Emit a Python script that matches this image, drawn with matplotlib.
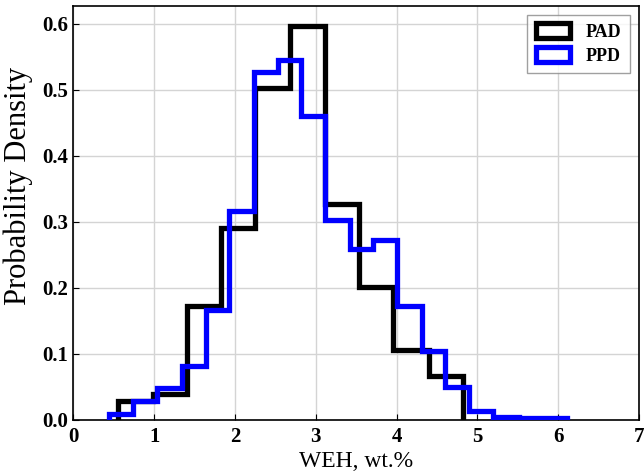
import matplotlib.pyplot as plt
from matplotlib.patches import Patch

# === Daten ===
pad_edges = [0.55, 0.98, 1.40, 1.83, 2.25, 2.68, 3.12, 3.54, 3.96, 4.40, 4.82]
pad_density = [0.028, 0.040, 0.172, 0.291, 0.503, 0.597, 0.327, 0.202, 0.106, 0.066]

ppd_edges = [0.44, 0.74, 1.04, 1.34, 1.64, 1.93, 2.23, 2.53, 2.82, 3.12, 3.42,
             3.71, 4.01, 4.31, 4.60, 4.90, 5.20, 5.52, 5.81, 6.11]
ppd_density = [0.009, 0.029, 0.048, 0.082, 0.167, 0.316, 0.528, 0.545, 0.461,
               0.303, 0.259, 0.273, 0.173, 0.105, 0.050, 0.014, 0.005, 0.003, 0.003]

plt.rcParams['font.family'] = ['Liberation Serif', 'DejaVu Serif']

fig = plt.figure(figsize=(6.44, 4.75), dpi=100)
ax = fig.add_axes([0.114, 0.116, 0.878, 0.871])

ax.stairs(pad_density, pad_edges, color='black', linewidth=3.8, label='PAD', zorder=3)
ax.stairs(ppd_density, ppd_edges, color='#0000ff', linewidth=3.8, label='PPD', zorder=4)

ax.set_xlim(0, 7)
ax.set_ylim(0, 0.627)
ax.set_xticks(range(0, 8))
ax.set_yticks([0.0, 0.1, 0.2, 0.3, 0.4, 0.5, 0.6])
ax.set_yticklabels(['0.0', '0.1', '0.2', '0.3', '0.4', '0.5', '0.6'])
ax.tick_params(direction='in', length=4, labelsize=15, top=False, right=False)
ax.tick_params(axis='x', pad=5)
for lab in ax.get_xticklabels() + ax.get_yticklabels():
    lab.set_fontweight('bold')

ax.grid(True, color='#d4d4d4', linewidth=1.0)
ax.set_axisbelow(True)
for s in ax.spines.values():
    s.set_linewidth(1.2)

ax.set_xlabel('WEH, wt.%', fontsize=17, labelpad=3)
ax.set_ylabel('Probability Density', fontsize=22)
ax.yaxis.set_label_coords(-0.071, 0.565)

handles = [Patch(facecolor='white', edgecolor='black', linewidth=3.8, label='PAD'),
           Patch(facecolor='white', edgecolor='#0000ff', linewidth=3.8, label='PPD')]
leg = ax.legend(handles=handles, loc='upper right', fancybox=False, edgecolor='#888888',
                prop={'weight': 'bold', 'size': 13}, handlelength=1.9, handleheight=0.9,
                borderaxespad=0.5, labelspacing=0.35, handletextpad=0.9, borderpad=0.45)
leg.get_frame().set_linewidth(1.0)

fig.savefig('out.png', dpi=100)
